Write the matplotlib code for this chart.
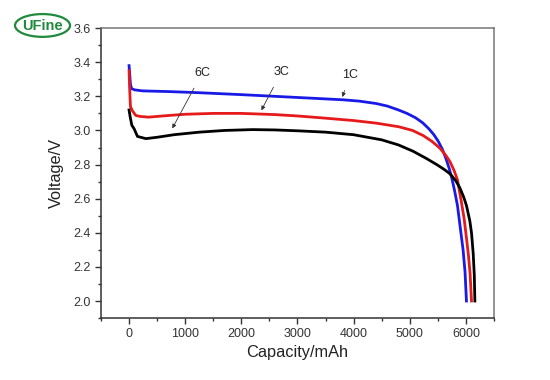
import matplotlib
matplotlib.use("Agg")
import matplotlib.pyplot as plt
from matplotlib.patches import Ellipse

plt.rcParams['font.family'] = ['Liberation Sans', 'DejaVu Sans']

# discharge curves (capacity in mAh, voltage in V)
cap_1c = [0, 10, 25, 45, 100, 240, 700, 1200, 2000, 2600, 3200, 3800, 4100, 4400,
          4600, 4800, 4950, 5100, 5230, 5340, 5430, 5510, 5580, 5640, 5700, 5750,
          5800, 5850, 5900, 5950, 5985, 6010]
v_1c = [3.38, 3.34, 3.27, 3.245, 3.238, 3.232, 3.228, 3.222, 3.21, 3.2, 3.19, 3.18,
        3.172, 3.158, 3.143, 3.12, 3.1, 3.075, 3.045, 3.01, 2.975, 2.935, 2.89, 2.84,
        2.78, 2.72, 2.645, 2.56, 2.43, 2.30, 2.17, 2.0]

cap_3c = [0, 10, 25, 60, 120, 200, 350, 600, 1000, 1500, 2000, 2600, 3000, 3500,
          4000, 4400, 4800, 5050, 5240, 5400, 5540, 5640, 5720, 5790, 5850, 5920,
          5970, 6010, 6045, 6075, 6100]
v_3c = [3.35, 3.25, 3.14, 3.115, 3.088, 3.082, 3.078, 3.085, 3.095, 3.1, 3.1,
        3.093, 3.085, 3.072, 3.058, 3.043, 3.022, 3.0, 2.97, 2.935, 2.895, 2.855,
        2.815, 2.765, 2.71, 2.58, 2.48, 2.37, 2.27, 2.16, 2.0]

cap_6c = [0, 20, 50, 90, 150, 300, 500, 800, 1250, 1700, 2200, 2600, 3000, 3500,
          4000, 4500, 4800, 5060, 5300, 5480, 5620, 5720, 5820, 5890, 5960, 6010,
          6070, 6100, 6130, 6150, 6160]
v_6c = [3.12, 3.08, 3.03, 3.01, 2.965, 2.952, 2.96, 2.975, 2.99, 3.0, 3.005, 3.003,
        2.998, 2.99, 2.975, 2.945, 2.915, 2.878, 2.835, 2.80, 2.77, 2.745, 2.705,
        2.665, 2.61, 2.56, 2.47, 2.40, 2.28, 2.15, 2.0]

labels = ['1C', '3C', '6C']
label_pos = [(3930, 3.324), (2710, 3.341), (1300, 3.335)]
arrow_tip = [(3800, 3.196), (2357, 3.118), (770, 3.012)]

x_ticks = [0, 1000, 2000, 3000, 4000, 5000, 6000]
y_ticks = [2.0, 2.2, 2.4, 2.6, 2.8, 3.0, 3.2, 3.4, 3.6]

fig = plt.figure(figsize=(5.5, 3.8), dpi=100)
ax = fig.add_axes([0.1836, 0.163, 0.7145, 0.763])

ax.plot(cap_1c, v_1c, color='#1a1ae6', lw=2.0)
ax.plot(cap_3c, v_3c, color='#e61a1a', lw=2.0)
ax.plot(cap_6c, v_6c, color='black', lw=2.0)

for lab, pos, tip in zip(labels, label_pos, arrow_tip):
    ax.annotate(lab, xy=tip, xytext=pos, ha='center', va='center', fontsize=9,
                color='#222222',
                arrowprops=dict(arrowstyle='-|>', color='#333333', lw=0.6,
                                mutation_scale=6, shrinkA=5, shrinkB=0))

ax.set_xlim(-500, 6500)
ax.set_ylim(1.9, 3.6)
ax.set_xticks(x_ticks)
ax.set_yticks(y_ticks)
ax.set_yticklabels([f"{t:.1f}" for t in y_ticks])
ax.set_xticks(range(-500, 6501, 1000), minor=True)
ax.set_yticks([1.9 + 0.2 * i for i in range(9)], minor=True)
ax.tick_params(which='major', direction='out', length=4, width=1,
               labelsize=9, labelcolor='#333333', color='#333333')
ax.tick_params(which='minor', direction='out', length=2.5, width=1, color='#333333')

for side in ['left', 'bottom']:
    ax.spines[side].set_color('#333333')
    ax.spines[side].set_linewidth(1.1)
for side in ['top', 'right']:
    ax.spines[side].set_color('#777777')
    ax.spines[side].set_linewidth(1.1)

ax.set_xlabel('Capacity/mAh', fontsize=11.8, color='#222222', labelpad=3)
ax.set_ylabel('Voltage/V', fontsize=11.8, color='#222222', labelpad=7)

# logo in the top left corner
logo = Ellipse((0.0773, 0.933), 0.1, 0.06, transform=fig.transFigure,
               fill=False, edgecolor='#1f8a3c', lw=1.6)
fig.patches.append(logo)
fig.text(0.0773, 0.932, 'UFine', ha='center', va='center', fontsize=10.5,
         fontweight='bold', color='#1f8a3c')

fig.savefig('out.png', dpi=100)
